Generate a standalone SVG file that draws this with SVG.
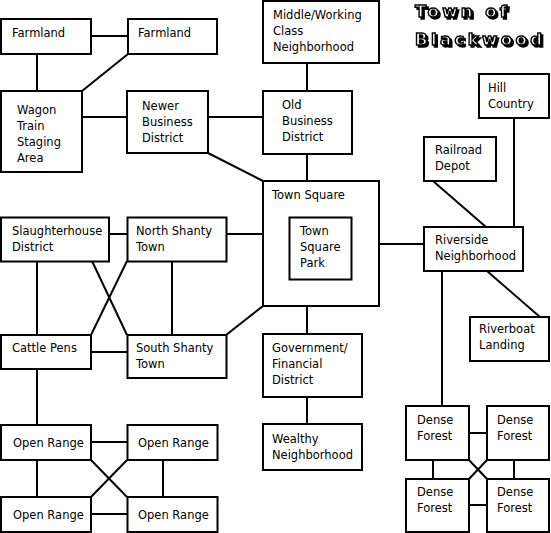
<svg xmlns="http://www.w3.org/2000/svg" width="551" height="533" viewBox="0 0 551 533">
<defs>
<filter id="shadow" x="-10%" y="-30%" width="130%" height="170%">
<feDropShadow dx="2" dy="2" stdDeviation="0" flood-color="#000"/>
</filter>
</defs>
<style>
rect{fill:#fff;stroke:#000;stroke-width:2}
#connectors line{stroke:#000;stroke-width:2}
text{font-family:"DejaVu Sans",sans-serif;font-size:11.5px;fill:#000}
.t{font-family:"DejaVu Sans",sans-serif;font-weight:bold;font-size:16.5px;letter-spacing:3.4px;fill:#fff;stroke:#000;stroke-width:1.4;filter:url(#shadow)}
</style>
<rect x="0" y="0" width="551" height="533" style="stroke:none"/>
<g id="connectors">
<line x1="91" y1="36" x2="128" y2="36"/>
<line x1="37" y1="54" x2="37" y2="91"/>
<line x1="128" y1="54" x2="82" y2="91"/>
<line x1="82" y1="117" x2="127" y2="117"/>
<line x1="208" y1="117" x2="263" y2="117"/>
<line x1="208" y1="153" x2="263" y2="181"/>
<line x1="307" y1="63" x2="307" y2="91"/>
<line x1="307" y1="154" x2="307" y2="181"/>
<line x1="514" y1="118" x2="514" y2="227"/>
<line x1="433" y1="181" x2="486" y2="227"/>
<line x1="379" y1="244" x2="424" y2="244"/>
<line x1="487" y1="271" x2="540" y2="317"/>
<line x1="442" y1="271" x2="442" y2="406"/>
<line x1="307" y1="307" x2="307" y2="334"/>
<line x1="307" y1="397" x2="307" y2="424"/>
<line x1="109" y1="234" x2="127" y2="234"/>
<line x1="226" y1="234" x2="263" y2="234"/>
<line x1="37" y1="261" x2="37" y2="335"/>
<line x1="172" y1="261" x2="172" y2="335"/>
<line x1="92" y1="261" x2="127" y2="335"/>
<line x1="127" y1="261" x2="91" y2="335"/>
<line x1="91" y1="352" x2="127" y2="352"/>
<line x1="226" y1="335" x2="263" y2="306"/>
<line x1="37" y1="369" x2="37" y2="425"/>
<line x1="91" y1="442" x2="127" y2="442"/>
<line x1="37" y1="460" x2="37" y2="497"/>
<line x1="163" y1="460" x2="163" y2="497"/>
<line x1="91" y1="514" x2="127" y2="514"/>
<line x1="91" y1="460" x2="127" y2="497"/>
<line x1="127" y1="460" x2="91" y2="497"/>
<line x1="469" y1="433" x2="487" y2="433"/>
<line x1="433" y1="460" x2="433" y2="479"/>
<line x1="514" y1="460" x2="514" y2="479"/>
<line x1="469" y1="505" x2="487" y2="505"/>
<line x1="469" y1="460" x2="487" y2="479"/>
<line x1="487" y1="460" x2="469" y2="479"/>
</g>
<g id="title">
<text class="t" x="415" y="17">Town of</text>
<text class="t" x="415" y="45">Blackwood</text>
</g>
<g id="farmland1"><rect x="1" y="19" width="90" height="35"/><text x="12" y="37">Farmland</text></g>
<g id="farmland2"><rect x="128" y="19" width="89" height="35"/><text x="138" y="37">Farmland</text></g>
<g id="wagon"><rect x="1" y="91" width="81" height="81"/><text x="17" y="114">Wagon</text><text x="17" y="130">Train</text><text x="17" y="146">Staging</text><text x="17" y="162">Area</text></g>
<g id="newer"><rect x="127" y="91" width="81" height="62"/><text x="142" y="110">Newer</text><text x="142" y="126">Business</text><text x="142" y="142">District</text></g>
<g id="middle"><rect x="263" y="1" width="116" height="62"/><text x="273" y="19">Middle/Working</text><text x="273" y="35">Class</text><text x="273" y="51">Neighborhood</text></g>
<g id="old"><rect x="263" y="91" width="89" height="63"/><text x="282" y="109">Old</text><text x="282" y="125">Business</text><text x="282" y="141">District</text></g>
<g id="hill"><rect x="479" y="74" width="70" height="44"/><text x="488" y="92">Hill</text><text x="488" y="108">Country</text></g>
<g id="railroad"><rect x="424" y="137" width="72" height="44"/><text x="435" y="154">Railroad</text><text x="435" y="170">Depot</text></g>
<g id="townsquare"><rect x="263" y="181" width="116" height="125"/><text x="272" y="199">Town Square</text></g>
<g id="park"><rect x="289.5" y="217.5" width="62" height="62"/><text x="300" y="235">Town</text><text x="300" y="251">Square</text><text x="300" y="267">Park</text></g>
<g id="riverside"><rect x="424" y="227" width="99" height="44"/><text x="435" y="244">Riverside</text><text x="435" y="260">Neighborhood</text></g>
<g id="riverboat"><rect x="470" y="317" width="79" height="44"/><text x="479" y="333">Riverboat</text><text x="479" y="349">Landing</text></g>
<g id="government"><rect x="263" y="334" width="99" height="63"/><text x="272" y="352">Government/</text><text x="272" y="368">Financial</text><text x="272" y="384">District</text></g>
<g id="wealthy"><rect x="263" y="424" width="99" height="46"/><text x="272" y="443">Wealthy</text><text x="272" y="459">Neighborhood</text></g>
<g id="slaughterhouse"><rect x="1" y="217.5" width="108" height="44"/><text x="12" y="235">Slaughterhouse</text><text x="12" y="251">District</text></g>
<g id="northshanty"><rect x="127.5" y="217.5" width="99" height="44"/><text x="136" y="235">North Shanty</text><text x="136" y="251">Town</text></g>
<g id="cattlepens"><rect x="1" y="335" width="90" height="34"/><text x="12" y="352">Cattle Pens</text></g>
<g id="southshanty"><rect x="127.5" y="335" width="99" height="43"/><text x="136" y="352">South Shanty</text><text x="136" y="368">Town</text></g>
<g id="openrange1"><rect x="1" y="425" width="90" height="35"/><text x="13" y="447">Open Range</text></g>
<g id="openrange2"><rect x="127.5" y="425" width="90" height="35"/><text x="138" y="447">Open Range</text></g>
<g id="openrange3"><rect x="1" y="497" width="90" height="35"/><text x="13" y="519">Open Range</text></g>
<g id="openrange4"><rect x="127.5" y="497" width="90" height="35"/><text x="138" y="519">Open Range</text></g>
<g id="forest1"><rect x="406" y="406" width="63" height="54"/><text x="417" y="424">Dense</text><text x="417" y="440">Forest</text></g>
<g id="forest2"><rect x="487" y="406" width="62" height="54"/><text x="497" y="424">Dense</text><text x="497" y="440">Forest</text></g>
<g id="forest3"><rect x="406" y="479" width="63" height="53"/><text x="417" y="496">Dense</text><text x="417" y="512">Forest</text></g>
<g id="forest4"><rect x="487" y="479" width="62" height="53"/><text x="497" y="496">Dense</text><text x="497" y="512">Forest</text></g>
</svg>
